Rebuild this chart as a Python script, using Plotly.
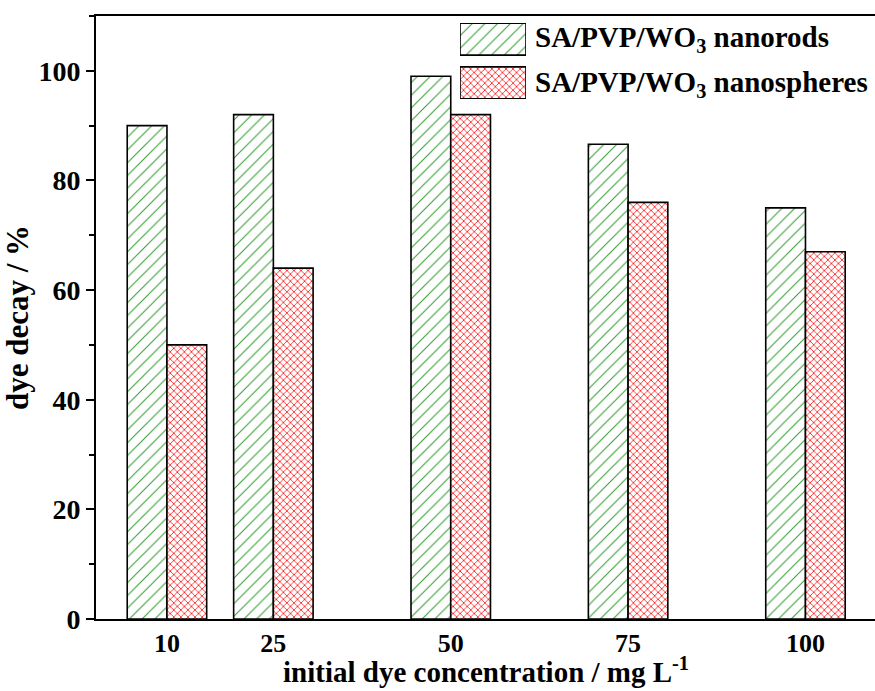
import plotly.graph_objects as go

concentration = [10, 25, 50, 75, 100]
nanorods = [90, 92, 99, 86.6, 75]
nanospheres = [50, 64, 92, 76, 67]
series_names = ["SA/PVP/WO<sub>3</sub> nanorods", "SA/PVP/WO<sub>3</sub> nanospheres"]
y_ticks = [0, 20, 40, 60, 80, 100]

FONT = "Liberation Serif"
BAR_W = 5.6
green_pat = dict(shape="/", fgcolor="#2E9B2E", bgcolor="white", size=9, solidity=0.11, fillmode="replace")
red_pat = dict(shape="x", fgcolor="#FF1A1A", bgcolor="white", size=5, solidity=0.3, fillmode="replace")

fig = go.Figure()
fig.add_trace(go.Bar(x=concentration, y=nanorods, width=BAR_W, offset=-BAR_W,
                     marker=dict(color="white", pattern=green_pat, line=dict(color="black", width=1.6)),
                     showlegend=False))
fig.add_trace(go.Bar(x=concentration, y=nanospheres, width=BAR_W, offset=0,
                     marker=dict(color="white", pattern=red_pat, line=dict(color="black", width=1.6)),
                     showlegend=False))

# legend swatches drawn on an auxiliary axis pair
fig.add_trace(go.Bar(y=[1], x=[1], base=0, orientation="h", width=0.73, xaxis="x2", yaxis="y2",
                     marker=dict(color="white", pattern=green_pat, line=dict(color="black", width=1.6)),
                     showlegend=False, hoverinfo="skip"))
fig.add_trace(go.Bar(y=[0], x=[1], base=0, orientation="h", width=0.73, xaxis="x2", yaxis="y2",
                     marker=dict(color="white", pattern=red_pat, line=dict(color="black", width=1.6)),
                     showlegend=False, hoverinfo="skip"))

W, H = 875, 691
ml, mr, mt, mb = 96, 0, 16, 72
pw, ph = W - ml - mr, H - mt - mb

def px_x(p):
    return (p - ml) / pw

def px_y(p):
    return (H - mb - p) / ph

fig.update_layout(
    width=W, height=H,
    margin=dict(l=ml, r=mr, t=mt, b=mb, pad=0),
    paper_bgcolor="white", plot_bgcolor="white",
    barmode="overlay",
    font=dict(family=FONT, size=27, color="black", weight="bold"),
    xaxis=dict(range=[0, 109.8], tickvals=concentration, ticks="", showgrid=False, zeroline=False,
               showline=True, linecolor="black", linewidth=2, mirror=True,
               tickfont=dict(family=FONT, size=26, weight="bold")),
    yaxis=dict(range=[0, 110], tickvals=y_ticks, ticks="outside", ticklen=8, tickwidth=2, tickcolor="black",
               minor=dict(dtick=10, ticks="outside", ticklen=5, tickwidth=2, tickcolor="black", showgrid=False),
               showgrid=False, zeroline=False, showline=True, linecolor="black", linewidth=2, mirror=False,
               tickfont=dict(family=FONT, size=28, weight="bold"),
               title=dict(text="dye decay / %", font=dict(family=FONT, size=31, weight="bold"), standoff=10)),
    xaxis2=dict(domain=[px_x(460), px_x(526)], range=[0, 1], anchor="y2", visible=False, fixedrange=True),
    yaxis2=dict(domain=[px_y(99), px_y(23)], range=[-0.37, 1.37], anchor="x2", visible=False, fixedrange=True),
)

# x-axis title placed explicitly just under the tick labels
fig.add_annotation(text="initial dye concentration / mg L<sup>-1</sup>", xref="paper", yref="paper",
                   x=0.5, y=0, yshift=-(691 - 619) + 1, xanchor="center", yanchor="bottom",
                   showarrow=False, font=dict(family=FONT, size=29, weight="bold", color="black"))

for name, ypix in zip(series_names, [39.5, 83.5]):
    fig.add_annotation(text=name, xref="paper", yref="paper", x=px_x(533), y=px_y(ypix),
                       xanchor="left", yanchor="middle", showarrow=False,
                       font=dict(family=FONT, size=29, weight="bold", color="black"))

fig.write_html("out.html")
